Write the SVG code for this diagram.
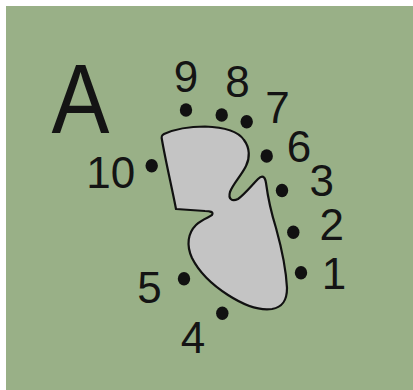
<svg xmlns="http://www.w3.org/2000/svg" width="413" height="390" viewBox="0 0 413 390">
<style>
.lbl{font-family:"Liberation Sans",Arial,sans-serif;font-size:44px;fill:#141414;text-anchor:middle}
.dot{fill:#111}
</style>
<rect x="0" y="0" width="413" height="390" fill="#ffffff"/>
<rect x="6" y="6" width="407" height="384" fill="#99B087"/>
<g id="title"><text x="51.5" y="133.3" font-family="Liberation Sans, Arial, sans-serif" font-size="98" fill="#141414" textLength="58" lengthAdjust="spacingAndGlyphs">A</text></g>
<g id="shape">
<path d="M 162,140 C 161,136 162,135 164,134 C 175,129 190,126.5 205,126.5 C 222,127 238,131 244,140 C 250,148 250,158 246,166 C 241,176 233,184 230,192 C 228,199 232,202 238,199 C 245,194 252,185 258,179 C 262,175 265,176 266,183 C 268,198 271,212 276,228 C 281,246 286,268 287,288 C 287,300 283,307 272,309 C 258,311 242,304 228,295 C 214,286 200,274 192,258 C 186,245 188,233 196,225 C 202,219 210,217 212,215 C 214,212 210,211 205,211 L 176,209 C 172,188 166,163 162,140 Z" fill="#C4C4C4" stroke="#111" stroke-width="2.2" stroke-linejoin="round"/>
</g>
<g id="p1"><ellipse class="dot" cx="301" cy="272.7" rx="6.2" ry="6.8"/><text class="lbl" x="334" y="288.5">1</text></g>
<g id="p2"><ellipse class="dot" cx="293.3" cy="232.3" rx="6.2" ry="6.8"/><text class="lbl" x="331.7" y="240">2</text></g>
<g id="p3"><ellipse class="dot" cx="282" cy="190.5" rx="6.2" ry="6.8"/><text class="lbl" x="321.7" y="196">3</text></g>
<g id="p4"><ellipse class="dot" cx="222.3" cy="313.3" rx="6.2" ry="6.8"/><text class="lbl" x="193" y="353.3">4</text></g>
<g id="p5"><ellipse class="dot" cx="184" cy="278.8" rx="6.2" ry="6.8"/><text class="lbl" x="149.5" y="303.3">5</text></g>
<g id="p6"><ellipse class="dot" cx="266.7" cy="156" rx="6.2" ry="6.8"/><text class="lbl" x="299" y="161.7">6</text></g>
<g id="p7"><ellipse class="dot" cx="246.7" cy="121.7" rx="6.2" ry="6.8"/><text class="lbl" x="277.5" y="122.7">7</text></g>
<g id="p8"><ellipse class="dot" cx="221.7" cy="115" rx="6.2" ry="6.8"/><text class="lbl" x="237.5" y="96.7">8</text></g>
<g id="p9"><ellipse class="dot" cx="186" cy="110" rx="6.2" ry="6.8"/><text class="lbl" x="186" y="91.7">9</text></g>
<g id="p10"><ellipse class="dot" cx="151.7" cy="165.7" rx="6.2" ry="6.8"/><text class="lbl" x="110.7" y="188">10</text></g>
</svg>
